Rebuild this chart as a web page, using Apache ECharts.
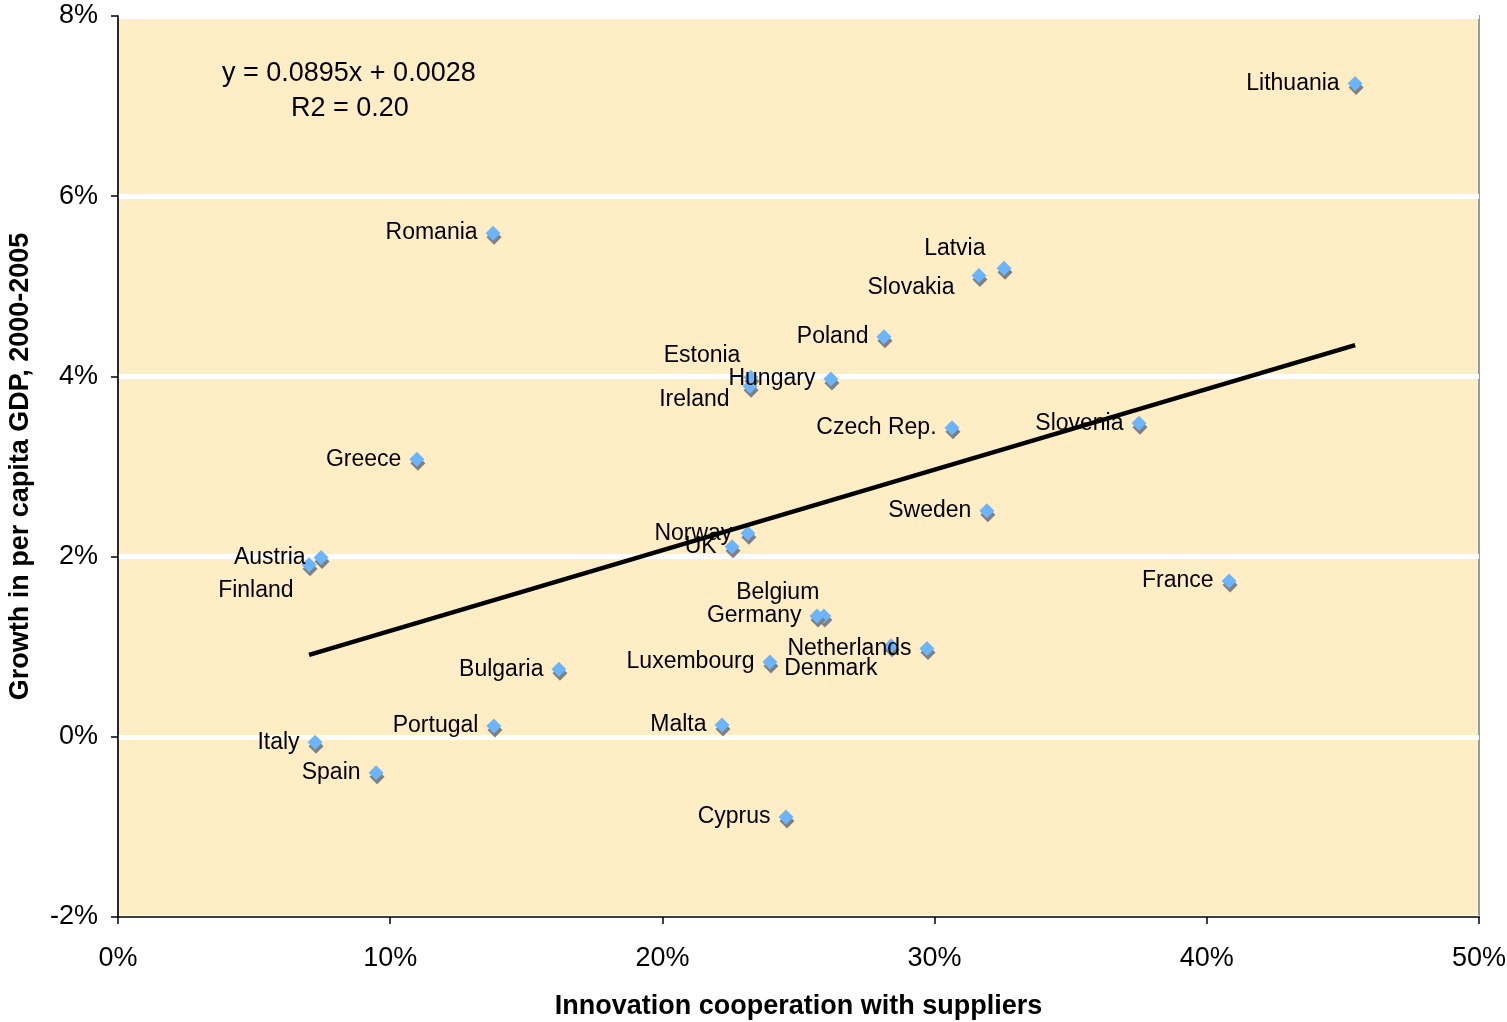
<!DOCTYPE html>
<html>
<head>
<meta charset="utf-8">
<script src="https://cdn.jsdelivr.net/npm/echarts@6/dist/echarts.min.js"></script>
<style>
  html, body { margin: 0; padding: 0; background: #ffffff; }
  #chart { width: 1507px; height: 1022px; }
</style>
</head>
<body>
<div id="chart"></div>
<script>
// Countries and their values (shares, not percent)
const countries = ['Lithuania', 'Romania', 'Latvia', 'Slovakia', 'Poland', 'Estonia', 'Hungary', 'Ireland',
  'Czech Rep.', 'Slovenia', 'Greece', 'Sweden', 'Norway', 'UK', 'Austria', 'Finland', 'France',
  'Belgium', 'Germany', 'Netherlands', 'Denmark', 'Luxembourg', 'Bulgaria', 'Portugal', 'Malta',
  'Italy', 'Spain', 'Cyprus'];
// Innovation cooperation with suppliers
const cooperation = [0.4545, 0.1378, 0.3255, 0.3163, 0.2814, 0.2325, 0.2619, 0.2322,
  0.3064, 0.3751, 0.1098, 0.3192, 0.2314, 0.2256, 0.0746, 0.0702, 0.4082,
  0.2593, 0.2568, 0.2972, 0.2840, 0.2395, 0.1620, 0.1381, 0.2219,
  0.0724, 0.0948, 0.2454];
// Growth in per capita GDP, 2000-2005
const growth = [0.0725, 0.0559, 0.0520, 0.0512, 0.0444, 0.0399, 0.0397, 0.0389,
  0.0343, 0.0348, 0.0308, 0.0251, 0.0226, 0.0211, 0.0199, 0.0191, 0.0173,
  0.0134, 0.0134, 0.0098, 0.0101, 0.0083, 0.0075, 0.0012, 0.0013,
  -0.0006, -0.0040, -0.0089];

// Linear fit shown in the annotation
const slope = 0.0895;
const intercept = 0.0028;
const rSquared = '0.20';

const xTicks = { min: 0, max: 0.5, interval: 0.1 };
const yTicks = { min: -0.02, max: 0.08, interval: 0.02 };

// Label nudges for crowded points (px, relative to the default left placement)
const labelShift = {
  'Latvia': [-3, -20],
  'Slovakia': [-9, 12],
  'Estonia': [5, -22],
  'Ireland': [-5, 13],
  'Finland': [0, 26],
  'Belgium': [11, -23],
  'Denmark': [2, 23]
};

const pct = v => Math.round(v * 100) + '%';

const points = countries.map((name, i) => ({ name: name, value: [cooperation[i], growth[i]] }));

const xFitMin = Math.min(...cooperation);
const xFitMax = Math.max(...cooperation);
const fitLine = [
  [xFitMin, slope * xFitMin + intercept],
  [xFitMax, slope * xFitMax + intercept]
];

const font = 'Liberation Sans, Arial, Helvetica, sans-serif';

const chart = echarts.init(document.getElementById('chart'), null, { renderer: 'canvas' });
chart.setOption({
  animation: false,
  textStyle: { fontFamily: font },
  grid: {
    left: 118, right: 28, top: 16, bottom: 105,
    containLabel: false,
    outerBoundsMode: 'none',
    show: true,
    backgroundColor: '#FFEDC5',
    borderColor: '#9a9a9a',
    borderWidth: 2
  },
  xAxis: {
    type: 'value',
    min: xTicks.min, max: xTicks.max, interval: xTicks.interval,
    name: 'Innovation cooperation with suppliers',
    nameLocation: 'middle',
    nameGap: 76,
    nameTextStyle: { fontSize: 27, fontWeight: 'bold', color: '#000', fontFamily: font },
    axisLine: { show: true, onZero: false, lineStyle: { color: '#000', width: 1.5 } },
    axisTick: { show: true, inside: false, length: 7, lineStyle: { color: '#000', width: 1.5 } },
    axisLabel: { formatter: pct, fontSize: 27, color: '#000', margin: 28, fontFamily: font },
    splitLine: { show: false }
  },
  yAxis: {
    type: 'value',
    min: yTicks.min, max: yTicks.max, interval: yTicks.interval,
    name: 'Growth in per capita GDP, 2000-2005',
    nameLocation: 'middle',
    nameGap: 84,
    nameTextStyle: { fontSize: 27, fontWeight: 'bold', color: '#000', fontFamily: font },
    axisLine: { show: true, onZero: false, lineStyle: { color: '#000', width: 1.5 } },
    axisTick: { show: true, inside: false, length: 7, lineStyle: { color: '#000', width: 1.5 } },
    axisLabel: { formatter: pct, fontSize: 27, color: '#000', margin: 20, fontFamily: font },
    splitLine: { show: true, lineStyle: { color: '#ffffff', width: 5 } }
  },
  graphic: [
    {
      type: 'text', left: 222, top: 60, z: 10,
      style: { text: 'y = ' + slope + 'x + ' + intercept, font: '27px ' + font, fill: '#000' }
    },
    {
      type: 'text', left: 291, top: 95, z: 10,
      style: { text: 'R2 = ' + rSquared, font: '27px ' + font, fill: '#000' }
    }
  ],
  series: [
    {
      type: 'line',
      data: fitLine,
      symbol: 'none',
      z: 3,
      lineStyle: { color: '#000', width: 4.5 },
      silent: true
    },
    {
      type: 'scatter',
      data: points,
      symbol: 'diamond',
      symbolSize: 15,
      z: 2,
      itemStyle: {
        color: '#6BB5FF',
        opacity: 1,
        shadowColor: 'rgba(128,128,128,1)',
        shadowBlur: 0,
        shadowOffsetX: 1,
        shadowOffsetY: 4
      },
      label: {
        show: true,
        position: 'left',
        distance: 8,
        formatter: '{b}',
        fontSize: 23,
        color: '#000000',
        opacity: 1,
        textBorderWidth: 0,
        textShadowBlur: 0,
        fontFamily: font
      },
      labelLayout: function (params) {
        const shift = labelShift[countries[params.dataIndex]];
        return shift ? { dx: shift[0], dy: shift[1], hideOverlap: false } : { hideOverlap: false };
      }
    }
  ]
});
</script>
</body>
</html>
